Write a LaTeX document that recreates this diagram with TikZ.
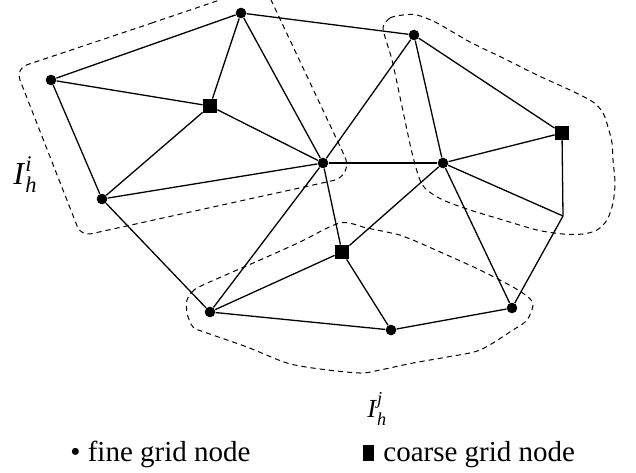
\documentclass[tikz,border=0pt]{standalone}
\usepackage{fontspec}
\usepackage{amsmath}
\setmainfont{Liberation Serif}
\begin{document}
\begin{tikzpicture}[x=0.5pt,y=-0.5pt,
  fine/.style={circle,fill=black,inner sep=0pt,minimum size=5.3pt},
  coarse/.style={rectangle,fill=black,inner sep=0pt,minimum size=7pt},
  edge/.style={line width=0.65pt},
  region/.style={line width=0.5pt,dash pattern=on 2.6pt off 2pt},
  lbl/.style={inner sep=0pt,anchor=base west}]
\useasboundingbox (0,0) rectangle (636,472);
\clip (0,0) rectangle (636,472);

% grid nodes
\node[fine]   (a) at (241,13)  {};
\node[fine]   (b) at (51,80)   {};
\node[coarse] (c) at (210,106) {};
\node[fine]   (d) at (102,199) {};
\node[fine]   (e) at (323,163) {};
\node[fine]   (f) at (414,35)  {};
\node[coarse] (g) at (562,133) {};
\node[fine]   (h) at (443,163) {};
\coordinate   (i) at (563,216);
\node[coarse] (j) at (342,252) {};
\node[fine]   (k) at (210,312) {};
\node[fine]   (l) at (391,330) {};
\node[fine]   (m) at (512,308) {};

% triangulation edges
\draw[edge] (a) -- (b);
\draw[edge] (a) -- (c);
\draw[edge] (a) -- (e);
\draw[edge] (a) -- (f);
\draw[edge] (b) -- (c);
\draw[edge] (b) -- (d);
\draw[edge] (c) -- (d);
\draw[edge] (c) -- (e);
\draw[edge] (d) -- (e);
\draw[edge] (d) -- (k);
\draw[edge] (e) -- (f);
\draw[edge] (e) -- (h);
\draw[edge] (e) -- (k);
\draw[edge] (e) -- (j);
\draw[edge] (f) -- (h);
\draw[edge] (f) -- (g);
\draw[edge] (g) -- (h);
\draw[edge] (g) -- (i);
\draw[edge] (h) -- (i);
\draw[edge] (h) -- (j);
\draw[edge] (h) -- (m);
\draw[edge] (i) -- (m);
\draw[edge] (j) -- (k);
\draw[edge] (j) -- (l);
\draw[edge] (k) -- (l);
\draw[edge] (l) -- (m);

% subdomain I_h^i
\draw[region] (140,27) [rounded corners=8pt] -- (264,-15)
  [rounded corners=11pt] -- (354,176)
  [rounded corners=5pt] -- (81,236)
  [rounded corners=6pt] -- (15.5,68.6) -- cycle;

% subdomain around the right coarse node
\draw[region] plot[smooth cycle] coordinates {
  (383,27) (390,18) (403,15) (417,15) (437,23) (470,42) (503,58)
  (537,75) (570,90) (593,102) (603,113) (608,127) (612,143) (613,160)
  (615,183) (613,203) (607,220) (597,230) (583,234) (563,234) (537,230)
  (503,220) (470,210) (443,200) (427,190) (420,180) (413,157) (407,130)
  (400,97) (392,60) (385,37)};

% subdomain I_h^j
\draw[region] plot[smooth cycle] coordinates {
  (187,300) (192,292) (203,285) (260,260) (300,242) (340,223) (367,228)
  (400,235) (413,240) (447,255) (480,270) (513,287) (528,297) (533,305)
  (527,320) (513,330) (480,350) (447,357) (413,363) (380,370) (360,373)
  (320,369) (287,363) (247,347) (207,333) (193,327) (187,313)};

% subdomain labels
\node[lbl] (li) at (13,184) {\fontsize{16}{19}\selectfont\textit{I}$_{\textit{h}}^{\textit{i}}$};
\node[lbl] (lj) at (367,417) {\fontsize{13}{16}\selectfont\textit{I}$_{\textit{h}}^{\textit{j}}$};

% legend
\node[lbl] (lf) at (70,461) {\fontsize{14.5}{17}\selectfont • fine grid node};
\node[coarse,minimum width=5.5pt,minimum height=8pt] (lsq) at (368.5,453) {};
\node[lbl] (lc) at (383,461) {\fontsize{14.5}{17}\selectfont coarse grid node};
\end{tikzpicture}
\end{document}
